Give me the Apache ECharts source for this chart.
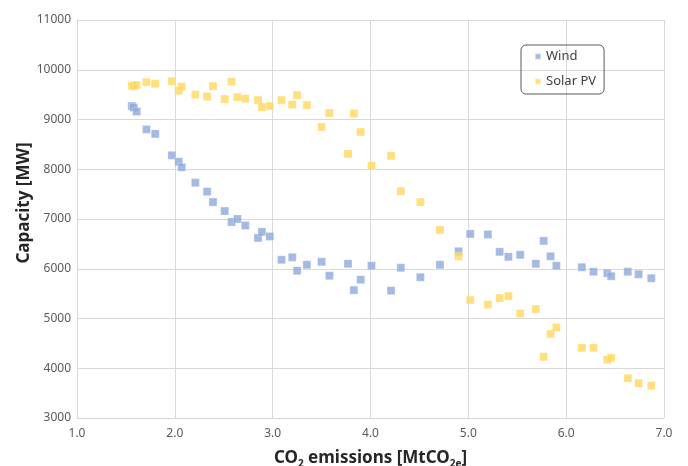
<!DOCTYPE html>
<html><head><meta charset="utf-8">
<script src="https://cdn.jsdelivr.net/npm/echarts@6/dist/echarts.min.js"></script>
<style>html,body{margin:0;padding:0;background:#fff}#c{width:688px;height:466px}</style>
</head><body><div id="c"></div>
<script>
const emissions = [1.56,1.58,1.61,1.71,1.80,1.97,2.04,2.07,2.21,2.33,2.39,2.51,2.58,2.64,2.72,2.85,2.89,2.97,3.09,3.20,3.25,3.35,3.50,3.58,3.77,3.83,3.90,4.01,4.21,4.31,4.51,4.71,4.90,5.02,5.20,5.32,5.41,5.53,5.69,5.77,5.84,5.90,6.16,6.28,6.42,6.46,6.63,6.74,6.87];
const windCapacity = [9270,9240,9160,8800,8710,8280,8150,8040,7730,7550,7340,7160,6940,7000,6870,6620,6740,6650,6180,6230,5960,6080,6140,5860,6100,5570,5780,6060,5560,6020,5830,6080,6350,6700,6690,6340,6240,6280,6100,6560,6250,6060,6030,5940,5910,5850,5940,5890,5810];
const solarCapacity = [9680,9670,9690,9750,9720,9770,9580,9660,9500,9460,9670,9410,9760,9450,9420,9390,9250,9270,9390,9300,9490,9290,8850,9130,8310,9120,8750,8070,8270,7560,7340,6780,6250,5370,5280,5410,5450,5100,5190,4230,4690,4820,4410,4410,4170,4210,3800,3700,3650];
const seriesNames = ['Wind','Solar PV'];

const font = 'Noto Sans';
const chart = echarts.init(document.getElementById('c'), null, {renderer:'canvas'});
const pairs = arr => emissions.map((x,i)=>[x,arr[i]]);
chart.setOption({
  animation:false,
  grid:{left:77,right:24,top:20,bottom:48,outerBoundsMode:'none',containLabel:false},
  legend:{
    orient:'vertical', left:521, top:45, itemWidth:6, itemHeight:6, itemGap:12,
    padding:[5,8,6,13],
    borderColor:'#595959', borderWidth:1, borderRadius:5,
    textStyle:{fontFamily:font, fontSize:13, color:'#404040'},
    data:[{name:seriesNames[0],icon:'rect'},{name:seriesNames[1],icon:'rect'}]
  },
  xAxis:{
    type:'value', min:1, max:7, interval:1,
    axisLabel:{formatter:v=>v.toFixed(1), fontFamily:font, fontSize:12, color:'#595959', margin:10},
    axisLine:{show:true,lineStyle:{color:'#d9d9d9'}},
    axisTick:{show:false},
    splitLine:{show:true,lineStyle:{color:'#d9d9d9'}},
    name:'{a|CO}{s|2}{a| emissions [MtCO}{s|2e}{a|]}',
    nameLocation:'middle', nameGap:29, nameMoveOverlap:false,
    nameTextStyle:{rich:{
      a:{fontFamily:font, fontSize:17, fontWeight:'bold', color:'#262626', lineHeight:22},
      s:{fontFamily:font, fontSize:10, fontWeight:'bold', color:'#262626', lineHeight:22, padding:[12,0,0,0]}
    }}
  },
  yAxis:{
    type:'value', min:3000, max:11000, interval:1000,
    axisLabel:{formatter:v=>String(v), fontFamily:font, fontSize:12, color:'#595959', margin:6},
    axisLine:{show:true,lineStyle:{color:'#d9d9d9'}},
    axisTick:{show:false},
    splitLine:{show:true,lineStyle:{color:'#d9d9d9'}},
    name:'Capacity [MW]', nameLocation:'middle', nameGap:44, nameMoveOverlap:false,
    nameTextStyle:{fontFamily:font, fontSize:17, fontWeight:'bold', color:'#262626', padding:[0,0,0,32]}
  },
  series:[
    {name:seriesNames[0], type:'scatter', symbol:'rect', symbolSize:8,
     itemStyle:{color:'#8EA9DB', borderColor:'rgba(255,255,255,0.6)', borderWidth:0.5},
     data:pairs(windCapacity)},
    {name:seriesNames[1], type:'scatter', symbol:'rect', symbolSize:8,
     itemStyle:{color:'#FFD75E', borderColor:'rgba(255,255,255,0.6)', borderWidth:0.5},
     data:pairs(solarCapacity)}
  ]
});
</script></body></html>
